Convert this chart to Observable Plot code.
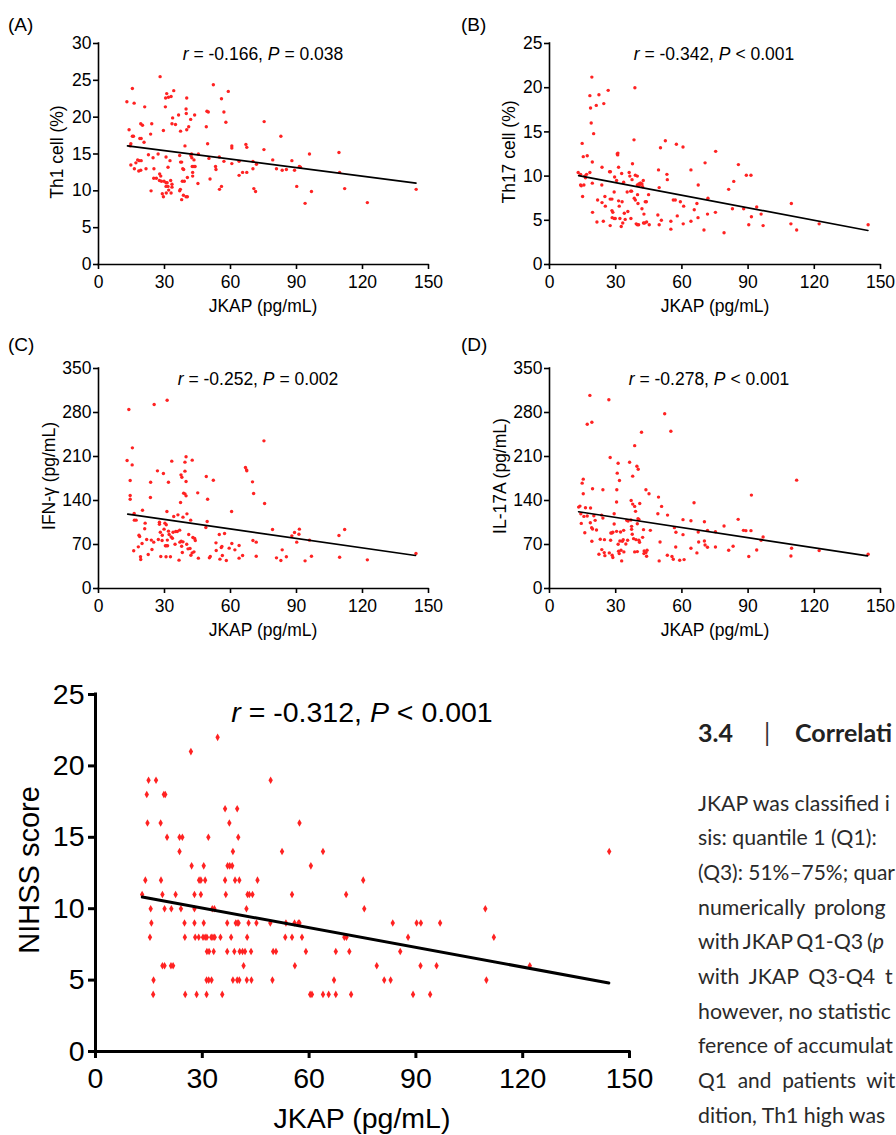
<!DOCTYPE html>
<html><head><meta charset="utf-8">
<script src="https://cdn.jsdelivr.net/npm/d3@7"></script>
<script src="https://cdn.jsdelivr.net/npm/@observablehq/plot@0.6"></script>
<style>
body{margin:0;background:#fff;}
#root{position:relative;width:896px;height:1135px;overflow:hidden;background:#fff;}
#root > svg{position:absolute;overflow:visible;}
</style></head><body><div id="root"></div>
<script>
// ---------- DATA ----------
const xTicks = [0, 30, 60, 90, 120, 150];
const xLabel = "JKAP (pg/mL)";
const panelLetters = ["(A)", "(B)", "(C)", "(D)"];
const yLabels = ["Th1 cell (%)", "Th17 cell (%)", "IFN-\u03b3 (pg/mL)", "IL-17A (pg/mL)", "NIHSS score"];
const statR = ["-0.166", "-0.342", "-0.252", "-0.278", "-0.312"];
const statP = ["= 0.038", "< 0.001", "= 0.002", "< 0.001", "< 0.001"];
const yTicksA = [0, 5, 10, 15, 20, 25, 30];
const yTicksB = [0, 5, 10, 15, 20, 25];
const yTicksCD = [0, 70, 140, 210, 280, 350];
const yTicksE = [0, 5, 10, 15, 20, 25];

const th1 = [[12.9,22.1],[13.9,18.3],[15.4,23.9],[16.2,21.9],[15.4,17.4],[15.9,17.4],[14.7,16.4],[14.4,16.1],[14.7,13.5],[16.3,13.0],[17.0,13.8],[17.8,14.2],[18.5,14.1],[19.4,14.1],[18.8,17.1],[19.4,17.1],[19.2,19.1],[20.0,18.9],[21.0,21.4],[20.7,16.6],[18.3,12.7],[19.2,12.8],[21.6,13.0],[22.7,14.9],[23.7,17.7],[24.2,19.1],[24.8,14.5],[25.2,13.0],[25.1,11.7],[23.9,10.0],[26.3,11.7],[27.1,15.0],[28.0,25.5],[27.8,12.3],[28.3,12.0],[27.7,11.4],[29.5,18.2],[28.6,11.3],[29.0,9.6],[29.5,9.2],[29.8,11.3],[30.5,22.6],[30.4,21.4],[31.0,23.2],[31.8,22.7],[33.0,22.8],[34.2,23.6],[30.7,14.6],[30.7,11.1],[31.2,11.1],[30.7,10.6],[31.6,10.6],[30.8,9.7],[31.9,10.1],[32.5,14.1],[32.8,11.4],[33.0,9.7],[33.4,10.9],[33.4,10.5],[33.7,19.9],[33.4,19.1],[35.0,19.0],[31.6,13.2],[36.4,20.3],[37.3,18.1],[36.9,14.8],[37.3,13.9],[37.8,13.9],[36.9,10.0],[37.2,10.2],[38.3,13.0],[38.1,11.3],[39.0,11.3],[37.8,8.8],[38.6,9.4],[39.8,9.2],[40.4,9.2],[39.3,16.1],[38.7,12.9],[40.1,22.6],[39.8,21.1],[39.9,20.5],[40.1,18.3],[41.0,18.7],[41.9,19.7],[43.7,20.3],[42.0,14.8],[42.4,14.5],[42.3,15.0],[42.6,13.3],[43.4,13.3],[43.9,13.3],[42.8,12.5],[42.8,12.0],[40.4,11.8],[43.4,14.2],[45.4,15.0],[45.2,11.0],[49.0,18.7],[49.3,20.8],[49.9,20.7],[49.6,16.4],[50.2,14.4],[50.7,11.6],[52.2,24.4],[53.2,13.3],[53.4,12.9],[54.9,14.6],[55.0,10.2],[55.9,10.6],[55.9,22.5],[57.0,20.7],[57.9,19.3],[57.0,14.0],[59.0,23.5],[60.6,16.1],[60.6,15.8],[60.6,13.7],[63.9,14.0],[63.9,12.1],[65.5,12.5],[67.0,16.3],[67.4,15.9],[67.4,12.5],[70.2,14.0],[70.2,13.0],[70.6,10.3],[71.4,9.9],[71.8,13.6],[75.3,19.4],[75.2,15.6],[79.2,14.2],[80.9,13.0],[82.9,17.4],[83.5,12.8],[85.4,12.9],[87.9,14.1],[89.1,12.8],[90.1,10.6],[91.3,13.3],[91.8,13.2],[93.9,8.3],[95.9,15.0],[96.8,9.9],[109.3,15.2],[109.6,12.5],[111.9,10.3],[122.2,8.4],[144.4,10.2]];
const th1Fit = [[13.2,16.1],[144.3,11.05]];

const th17 = [[13.0,10.4],[14.1,10.2],[14.8,13.7],[14.1,9.0],[14.4,8.9],[15.3,12.2],[15.0,7.7],[15.6,9.0],[16.0,10.0],[16.3,9.8],[16.8,10.2],[17.1,12.3],[18.3,10.4],[18.3,19.1],[18.6,17.7],[18.9,16.0],[19.2,21.2],[19.4,11.6],[19.4,9.2],[20.0,14.8],[19.5,5.9],[21.2,18.0],[21.5,4.8],[21.8,7.3],[22.4,19.2],[23.8,7.0],[23.8,11.0],[23.7,9.0],[24.4,4.9],[24.6,18.2],[25.1,7.7],[25.3,6.6],[26.6,19.7],[27.2,10.5],[27.6,10.5],[27.5,4.4],[27.5,7.4],[28.3,7.4],[28.3,6.1],[28.4,5.3],[28.7,5.9],[29.3,8.2],[29.3,5.2],[29.8,5.2],[29.5,9.9],[30.4,9.5],[30.7,12.5],[31.0,12.6],[30.9,12.4],[31.3,11.0],[31.3,7.2],[31.6,6.6],[31.9,5.2],[32.5,4.3],[32.7,10.3],[32.9,7.1],[33.2,4.7],[33.6,9.3],[33.9,5.8],[34.3,5.1],[35.2,8.2],[35.5,6.0],[36.1,10.4],[36.4,10.0],[36.8,8.3],[37.2,8.3],[36.9,5.2],[37.4,9.6],[37.6,11.4],[38.3,14.1],[38.4,7.5],[38.7,20.0],[38.9,7.3],[38.9,10.1],[39.8,10.0],[39.3,4.6],[39.8,4.5],[40.4,4.5],[39.8,9.0],[39.9,7.9],[40.1,6.9],[40.5,9.1],[40.8,9.0],[41.1,9.2],[41.4,9.2],[41.9,9.1],[41.9,6.3],[42.2,8.8],[42.5,9.5],[42.8,5.7],[42.6,4.7],[43.1,4.7],[43.4,7.1],[43.9,7.1],[44.0,4.8],[44.9,7.9],[45.2,4.5],[49.4,10.7],[49.1,5.6],[49.7,4.5],[49.7,8.7],[50.3,13.2],[50.7,5.0],[52.5,14.0],[53.2,10.2],[53.4,9.6],[55.0,4.9],[55.0,4.0],[56.1,7.3],[57.0,7.3],[57.5,13.6],[57.9,5.5],[59.3,7.1],[60.5,13.3],[60.8,6.6],[60.6,4.6],[64.1,10.7],[64.1,4.9],[65.6,6.2],[66.8,6.9],[67.4,9.0],[67.3,5.3],[70.0,3.9],[70.5,11.5],[71.6,5.7],[71.8,7.5],[75.2,5.9],[75.3,12.8],[79.1,3.6],[81.2,8.5],[82.9,6.3],[83.5,9.4],[85.6,11.3],[88.0,6.3],[89.2,10.1],[91.3,10.1],[90.3,4.5],[91.5,5.4],[93.9,6.5],[95.9,5.7],[96.8,4.4],[109.6,6.9],[109.4,4.6],[112.0,3.9],[122.2,4.6],[144.4,4.5]];
const th17Fit = [[13.2,10.05],[144.3,3.85]];

const ifng = [[13.0,203.6],[13.8,284.8],[14.4,171.8],[14.4,148],[14.4,142],[15.3,196.6],[15.4,223.8],[16.2,119.3],[16.3,108.7],[17.1,108.7],[16.0,60],[18.1,66.3],[18.4,84.8],[18.7,82.7],[19.1,50.4],[19.2,46.1],[19.8,71.6],[20.0,124.6],[21.2,104],[21.0,95],[21.9,78],[22.6,54],[23.7,169],[23.6,144.8],[24.0,77],[24.3,62],[25.1,73.7],[25.3,292.7],[26.8,187.2],[27.2,78],[27.7,105.5],[27.7,102.3],[28.1,89.6],[28.3,50.9],[28.9,76.4],[29.0,84.8],[29.5,183],[29.8,94.4],[30.2,104],[30.8,101.4],[30.4,67.9],[30.7,50.4],[30.8,67.9],[31.4,67.9],[31.1,122.5],[31.2,299.6],[31.8,169],[31.3,77],[31.8,91.2],[32.1,85.9],[32.7,50.4],[33.0,82.2],[33.3,202.6],[33.6,80],[33.9,89.6],[34.2,114.5],[34.8,70.5],[35.1,90.7],[35.8,90.7],[36.1,117.2],[36.6,45.1],[36.9,92.8],[37.0,73.7],[37.3,136.8],[37.5,180.8],[37.6,75.3],[37.8,67.3],[37.9,177],[38.1,57.3],[38.4,74.2],[38.4,113.5],[38.7,151.7],[39.3,150.6],[39.3,186.7],[39.3,201],[39.8,209.5],[39.8,170.2],[39.8,147.4],[40.1,70.5],[40.2,118.8],[40.7,63.1],[41.0,85.9],[41.6,63.6],[41.9,108.7],[42.0,53],[42.6,56.7],[42.6,204.2],[42.9,81.1],[43.7,79.5],[43.4,58.3],[44.0,76.4],[45.1,152.2],[45.4,48.3],[49.0,178.2],[49.4,106.6],[49.6,142.1],[48.8,97],[50.4,48.8],[50.8,50.9],[52.2,172.3],[53.4,72.6],[53.5,60.5],[54.9,85.9],[55.2,46.7],[55.8,65.2],[56.1,66.8],[56.3,52.5],[57.3,87.5],[58.1,44.5],[59.4,64.2],[60.5,122.5],[60.6,71.6],[62.0,61.5],[63.9,68.4],[63.9,48.3],[65.5,52.5],[66.8,192.5],[67.3,188.8],[67.4,187.2],[70.0,169.7],[70.2,76.4],[70.5,151.1],[71.7,73.7],[71.7,51.4],[75.2,234.9],[75.5,135.2],[79.1,93.9],[80.9,48.8],[82.9,44.5],[83.5,61.5],[85.4,50.4],[87.9,83.8],[89.1,89.1],[90.1,73.7],[91.3,94.4],[91.1,86.4],[93.9,44],[95.9,76.9],[96.8,51.4],[109.3,84.3],[109.6,49.8],[111.9,93.9],[122.2,45.6],[144.3,55.7]];
const ifngFit = [[13.3,118.3],[144.1,52.5]];

const il17a = [[13.2,129.5],[13.8,131.1],[14.2,119],[14.4,103.6],[14.8,167.6],[15.3,174],[15.3,150.7],[15.6,114.7],[16.0,88.8],[16.3,128.5],[17.1,261.2],[17.1,115.3],[18.3,307.2],[18.5,104.7],[18.6,128],[19.1,96.8],[19.5,94.6],[19.2,264.4],[19.5,158.6],[19.2,75.1],[20.1,115.8],[20.7,108.4],[21.3,93],[22.4,54.5],[23.0,78.3],[23.6,116.8],[23.7,61.9],[24.2,157],[24.2,112],[24.8,57.1],[25.1,52.3],[24.9,77.7],[26.9,300.4],[27.1,56.6],[27.5,208.3],[27.7,76.7],[27.8,88.3],[28.3,88.3],[28.7,89.4],[28.4,52.9],[28.7,49.2],[29.3,119],[29.3,102.6],[30.4,137.5],[30.4,90.9],[30.5,157],[30.7,183.5],[31.1,199.3],[31.1,70.3],[31.6,55.5],[31.3,59.2],[31.7,171.8],[31.9,75.6],[32.2,89.9],[32.4,60.8],[32.7,43.9],[33.0,75.1],[33.4,77.7],[33.6,92.5],[33.7,58.2],[34.6,70.8],[35.4,76.7],[35.0,108.4],[35.6,107.4],[36.3,200.9],[36.9,108.9],[37.0,140.1],[37.2,98.9],[37.2,94.1],[37.5,86.2],[37.7,134.3],[37.7,178.7],[38.1,79.3],[38.6,130.6],[38.6,227.3],[39.0,122.7],[38.6,58.2],[39.2,77.7],[39.6,194.6],[39.8,58.7],[39.8,103.1],[40.1,111],[40.2,189.8],[40.5,76.7],[40.5,110],[40.8,73.5],[40.9,135.3],[41.7,248.5],[42.2,81.4],[42.6,93.6],[42.9,59.7],[42.8,55.5],[43.7,57.1],[44.0,51.3],[43.7,157],[44.2,60.8],[45.1,150.7],[45.7,92.5],[49.4,145.4],[49.1,119],[49.7,43.9],[50.1,74],[50.8,130.6],[52.2,278.1],[53.5,116.8],[53.4,52.9],[55.0,250.1],[55.5,50.8],[56.1,46.5],[56.6,96.8],[57.3,89.4],[57.2,66.1],[59.0,44.9],[60.5,109.5],[60.5,85.7],[61.0,46],[64.1,107.9],[64.1,64],[65.5,136.4],[66.8,56.6],[67.4,89.9],[67.6,74],[70.2,106.3],[70.2,75.6],[70.5,69.3],[71.6,65.6],[71.6,92.5],[75.2,90.4],[75.2,66.1],[79.1,99.4],[81.2,60.8],[83.2,67.1],[85.5,110],[87.9,92.5],[89.0,92],[90.3,50.8],[91.3,92],[91.5,148.6],[93.9,61.3],[95.9,76.7],[96.8,81.9],[109.4,51.8],[109.7,64],[112.0,172.4],[122.2,60.3],[144.4,54.5]];
const il17aFit = [[13.2,122.1],[144.1,51.8]];

const nihss = [[34.3,22],[26.8,21],[14.9,19],[17.0,19],[49.2,19],[14.4,18],[19.2,18],[19.6,18],[36.4,17],[39.8,17],
[14.6,16],[18.3,16],[37.6,16],[57.3,16],[20.1,15],[23.6,15],[24.4,15],[31.7,15],[40.1,15],
[23.6,14],[38.6,14],[52.4,14],[63.9,14],[144.3,14],[27.0,13],[30.4,13],[37.1,13],[37.7,13],[38.4,13],[60.5,13],
[14.0,12],[18.4,12],[29.1,12],[29.6,12],[30.8,12],[36.4,12],[39.2,12],[40.4,12],[45.5,12],[75.2,12],
[13.1,11],[18.8,11],[22.5,11],[27.8,11],[29.6,11],[36.6,11],[42.7,11],[43.2,11],[44.1,11],[55.2,11],[70.4,11],
[15.5,10],[19.4,10],[21.3,10],[24.0,10],[27.8,10],[32.8,10],[33.4,10],[42.4,10],[75.5,10],[109.5,10],
[15.7,9],[25.0,9],[27.8,9],[30.4,9],[37.0,9],[39.4,9],[39.8,9],[40.2,9],[43.0,9],[45.2,9],[49.1,9],[53.5,9],[55.9,9],[57.0,9],[57.3,9],[83.5,9],[90.2,9],[91.4,9],[96.8,9],
[15.3,8],[25.1,8],[28.0,8],[29.0,8],[30.2,8],[30.8,8],[31.3,8],[32.5,8],[33.0,8],[33.5,8],[35.1,8],[38.1,8],[42.6,8],[53.3,8],[55.2,8],[58.0,8],[69.9,8],[70.5,8],[87.8,8],[111.9,8],
[31.3,7],[31.9,7],[33.2,7],[37.0,7],[39.0,7],[40.5,7],[41.3,7],[42.0,7],[43.7,7],[49.9,7],[50.7,7],[59.1,7],[67.5,7],[71.3,7],[85.6,7],
[18.8,6],[19.4,6],[21.2,6],[21.8,6],[41.6,6],[56.0,6],[79.0,6],[91.3,6],[95.8,6],[122.0,6],
[16.3,5],[31.2,5],[31.8,5],[32.6,5],[38.6,5],[39.8,5],[40.4,5],[42.5,5],[43.8,5],[49.7,5],[67.0,5],[81.1,5],[82.9,5],[109.8,5],
[16.2,4],[25.2,4],[28.4,4],[31.2,4],[35.6,4],[60.3,4],[60.8,4],[63.9,4],[65.5,4],[67.5,4],[71.8,4],[89.2,4],[94.0,4]];
const nihssFit = [[13.15,10.82],[144.2,4.8]];

// Article text beside the chart (as visible, cut at the page edge)
const headingNum = "3.4";
const headingSep = "|";
const headingText = "Correlati";
const bodyLines = [
  ["JKAP was classified i"],
  ["sis: quantile 1 (Q1):"],
  ["(Q3): 51%\u201375%; quar"],
  ["numerically prolong"],
  ["with JKAP Q1-Q3 (", "p"],
  ["with JKAP Q3-Q4 t"],
  ["however, no statistic"],
  ["ference of accumulat"],
  ["Q1 and patients wit"],
  ["dition, Th1 high was"]
];
const bodyWordSpacing = [0, 0, 0, 4, -1.5, 4.5, 0, 0, 5.5, 0];

// ---------- DRAWING ----------
const root = document.getElementById("root");
const FONT = "'Liberation Sans', Arial, Helvetica, sans-serif";
const RED = "#ff2222";

function panel(cfg) {
  const {data, fit, ymax, yTicks, left, top, width, height, mL, mR, mT, mB, fs, sw, ts, tpx, tpy, r, symbol, lw} = cfg;
  const chart = Plot.plot({
    width, height, marginLeft: mL, marginRight: mR, marginTop: mT, marginBottom: mB,
    style: {fontFamily: FONT, fontSize: fs + "px", color: "#000", background: "transparent", overflow: "visible"},
    x: {domain: [0, 150]},
    y: {domain: [0, ymax]},
    marks: [
      Plot.axisX({ticks: xTicks, tickSize: ts, tickPadding: tpx, strokeWidth: sw, label: null, fontSize: fs, stroke: "#000"}),
      Plot.axisY({ticks: yTicks, tickSize: ts, tickPadding: tpy, strokeWidth: sw, label: null, fontSize: fs, stroke: "#000"}),
      Plot.ruleX([0], {strokeWidth: sw, stroke: "#000", strokeLinecap: "square"}),
      Plot.ruleY([0], {strokeWidth: sw, stroke: "#000", strokeLinecap: "square"}),
      Plot.dot(data, {x: d => d[0], y: d => d[1], r, symbol, fill: RED, stroke: "none"}),
      Plot.line(fit, {x: d => d[0], y: d => d[1], stroke: "#000", strokeWidth: lw})
    ]
  });
  chart.style.left = left + "px";
  chart.style.top = top + "px";
  root.appendChild(chart);
  return d3.select(chart);
}

function addText(svg, o) {
  const t = svg.append("text")
    .attr("x", o.x).attr("y", o.y)
    .attr("text-anchor", o.anchor || "start")
    .attr("font-family", o.family || FONT)
    .attr("font-size", o.fs)
    .attr("fill", o.fill || "#000");
  if (o.rotate) t.attr("transform", `rotate(-90 ${o.x} ${o.y})`);
  return t;
}

function stat(svg, x, y, fs, i) {
  const t = addText(svg, {x, y, fs, anchor: "middle"});
  t.append("tspan").attr("font-style", "italic").text("r");
  t.append("tspan").text(" = " + statR[i] + ", ");
  t.append("tspan").attr("font-style", "italic").text("P");
  t.append("tspan").text(" " + statP[i]);
}

const small = {fs: 17.5, sw: 1.6, ts: 5, tpx: 6, tpy: 2, r: 1.7, symbol: "circle", lw: 1.7};
const defs = [
  {data: th1, fit: th1Fit, ymax: 30, yTicks: yTicksA, left: 0, top: 0, width: 448, height: 320, mL: 98, mR: 20, mT: 43, mB: 56,
   letter: [8, 31], statX: 263, statY: 60, yl: [63, 152], xl: [263, 312]},
  {data: th17, fit: th17Fit, ymax: 25, yTicks: yTicksB, left: 448, top: 0, width: 448, height: 320, mL: 101, mR: 16, mT: 43, mB: 56,
   letter: [461, 31], statX: 714, statY: 60, yl: [515, 152], xl: [715, 312]},
  {data: ifng, fit: ifngFit, ymax: 350, yTicks: yTicksCD, left: 0, top: 320, width: 448, height: 330, mL: 98, mR: 20, mT: 48, mB: 62,
   letter: [8, 351], statX: 258, statY: 385, yl: [55, 476], xl: [263, 636]},
  {data: il17a, fit: il17aFit, ymax: 350, yTicks: yTicksCD, left: 448, top: 320, width: 448, height: 330, mL: 101, mR: 16, mT: 48, mB: 62,
   letter: [461, 351], statX: 709, statY: 385, yl: [506, 476], xl: [715, 636]}
];

defs.forEach((d, i) => {
  const svg = panel({...small, ...d});
  addText(svg, {x: d.letter[0] - d.left, y: d.letter[1] - d.top, fs: 19}).text(panelLetters[i]);
  stat(svg, d.statX - d.left, d.statY - d.top, 17.5, i);
  addText(svg, {x: d.yl[0] - d.left, y: d.yl[1] - d.top, fs: 17.5, anchor: "middle", rotate: true}).text(yLabels[i]);
  addText(svg, {x: d.xl[0] - d.left, y: d.xl[1] - d.top, fs: 17.5, anchor: "middle"}).text(xLabel);
});

// Panel E
{
  const left = 0, top = 650;
  const svg = panel({data: nihss, fit: nihssFit, ymax: 25, yTicks: yTicksE, left, top, width: 680, height: 485,
    mL: 95, mR: 51, mT: 44, mB: 84, fs: 28.5, sw: 3, ts: 7, tpx: 9, tpy: 4, r: 2.3, symbol: "diamond", lw: 3});
  stat(svg, 362 - left, 722 - top, 28.5, 4);
  addText(svg, {x: 39 - left, y: 870 - top, fs: 29, anchor: "middle", rotate: true}).text(yLabels[4]);
  addText(svg, {x: 362 - left, y: 1128 - top, fs: 28.5, anchor: "middle"}).text(xLabel);
}

// Right-hand article text
{
  const svg = d3.select(root).append("svg")
    .attr("width", 896).attr("height", 1135)
    .style("left", "0px").style("top", "0px");
  const LATO = "Lato, 'Open Sans', sans-serif";
  const maxRight = 895;
  function fit(t, x0) {
    const w = t.node().getComputedTextLength();
    if (x0 + w > maxRight) {
      const fs = +t.attr("font-size");
      t.attr("font-size", (fs * (maxRight - x0) / w).toFixed(2));
    }
  }
  svg.append("text").attr("x", 698).attr("y", 742).attr("font-family", LATO).attr("font-weight", 700)
    .attr("font-size", 25).attr("fill", "#222").text(headingNum);
  svg.append("text").attr("x", 764).attr("y", 742).attr("font-family", LATO).attr("font-weight", 400)
    .attr("font-size", 25).attr("fill", "#333").text(headingSep);
  const h = svg.append("text").attr("x", 795).attr("y", 742).attr("font-family", LATO).attr("font-weight", 700)
    .attr("font-size", 25).attr("fill", "#222").text(headingText);
  fit(h, 795);
  bodyLines.forEach((parts, i) => {
    const t = svg.append("text").attr("x", 698).attr("y", 810.5 + i * 34.7)
      .attr("font-family", LATO).attr("font-size", 21.3).attr("fill", "#2a2a2a")
      .attr("word-spacing", bodyWordSpacing[i]);
    parts.forEach((p, j) => {
      const s = t.append("tspan").text(p);
      if (parts.length > 1 && j === 1) s.attr("font-style", "italic");
    });
    fit(t, 698);
  });
}
</script>
</body></html>
